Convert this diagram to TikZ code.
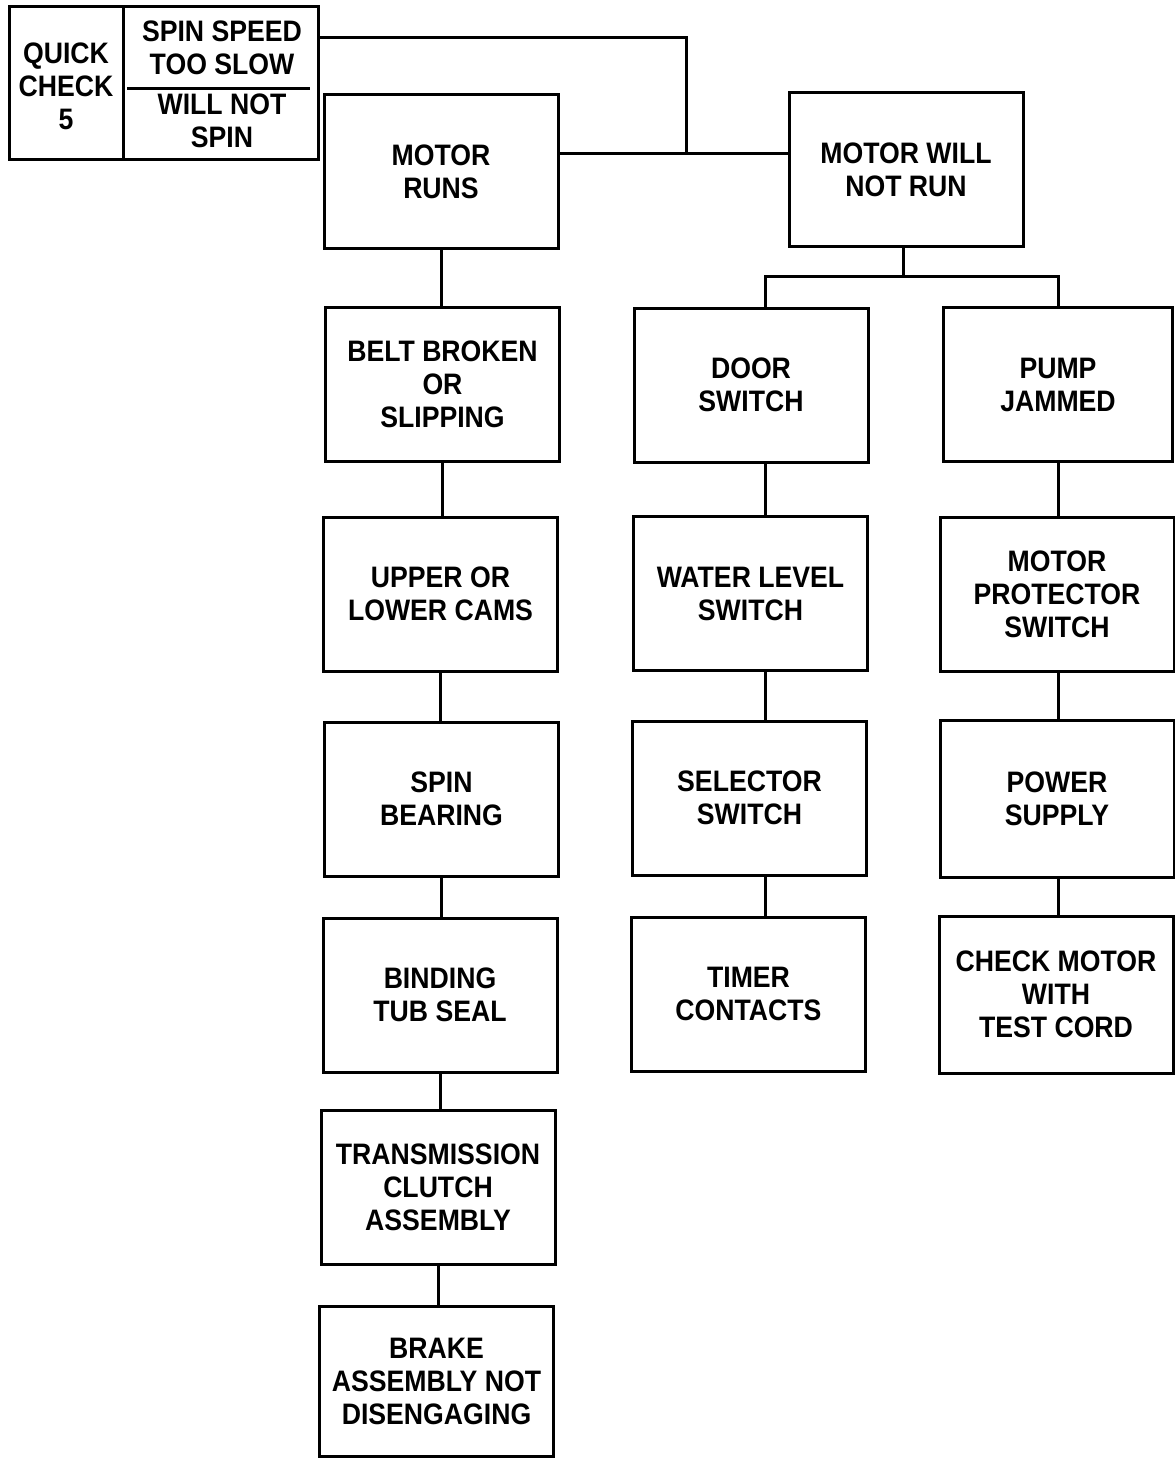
\documentclass[tikz,border=0pt]{standalone}
\usepackage{fontspec}
\setmainfont{Liberation Sans}[FakeStretch=0.9]
\usetikzlibrary{calc}

\begin{document}
\begin{tikzpicture}[x=0.5pt, y=-0.5pt, line width=1.5pt,
        box/.style={draw, line width=1.5pt, minimum width=117pt, minimum height=77pt,
            align=center, inner sep=0pt, font=\bfseries\fontsize{14.8}{16.5}\selectfont},
        txt/.style={align=center, inner sep=0pt, font=\bfseries\fontsize{14.8}{16.5}\selectfont}]

                \useasboundingbox (0,0) rectangle (1174,1458);

                \node[draw, line width=1.5pt, minimum width=154.5pt, minimum height=76.5pt, inner sep=0pt] (qc) at (163.5,82.5) {};
                \draw (123,6) -- (123,159);
                \draw (127,88) -- (310,88);
                \node[txt] (qctxt) at (66,86) {QUICK\\CHECK\\5};
                \node[txt] (slow) at (222,48) {SPIN SPEED\\TOO SLOW};
                \node[txt] (nospin) at (222,121) {WILL NOT\\SPIN};

                \node[box] (runs) at (441,171.5) {MOTOR\\RUNS};
                \node[box] (will) at (906,169.5) {MOTOR WILL\\NOT RUN};

                \node[box] (belt) at (442.5,384.5) {BELT BROKEN\\OR\\SLIPPING};
                \node[box] (cams) at (440.5,594) {UPPER OR\\LOWER CAMS};
                \node[box] (bearing) at (441.5,799) {SPIN\\BEARING};
                \node[box] (seal) at (440,995) {BINDING\\TUB SEAL};
                \node[box] (trans) at (438,1187.5) {TRANSMISSION\\CLUTCH\\ASSEMBLY};
                \node[box, minimum height=75pt] (brake) at (436.5,1381) {BRAKE\\ASSEMBLY NOT\\DISENGAGING};

                \node[box] (door) at (751,385) {DOOR\\SWITCH};
                \node[box] (water) at (750.5,593.5) {WATER LEVEL\\SWITCH};
                \node[box] (selector) at (749.5,798) {SELECTOR\\SWITCH};
                \node[box] (timer) at (748.5,994) {TIMER\\CONTACTS};

                \node[box, minimum width=114.5pt] (pump) at (1058,384.5) {PUMP\\JAMMED};
                \node[box] (protector) at (1057,594) {MOTOR\\PROTECTOR\\SWITCH};
                \node[box, minimum height=78.5pt] (power) at (1057,798.5) {POWER\\SUPPLY};
                \node[box, minimum height=78.5pt] (checkmotor) at (1056,994.5) {CHECK MOTOR\\WITH\\TEST CORD};

                \coordinate (hook) at (686,37);
                \coordinate (tap) at (686,153);
                \coordinate (fork) at (903,276);
                \coordinate (midcol) at (765,0);
                \coordinate (rightcol) at (1058,0);

                \draw (qc.east |- hook) -- (hook) -- (tap);
                \draw (runs.east |- tap) -- (will.west |- tap);
                \draw (will.south -| fork) -- (fork);
                \draw (door.north -| midcol) |- (fork) -| (pump.north -| rightcol);

                \foreach \a/\b in {runs/belt, belt/cams, cams/bearing, bearing/seal, seal/trans, trans/brake}
                    \draw (\a.south) -- (\b.north -| \a.south);
                \foreach \a/\b in {door/water, water/selector, selector/timer}
                    \draw (\a.south -| midcol) -- (\b.north -| midcol);
                \foreach \a/\b in {pump/protector, protector/power, power/checkmotor}
                    \draw (\a.south -| rightcol) -- (\b.north -| rightcol);
            \end{tikzpicture}
\end{document}
